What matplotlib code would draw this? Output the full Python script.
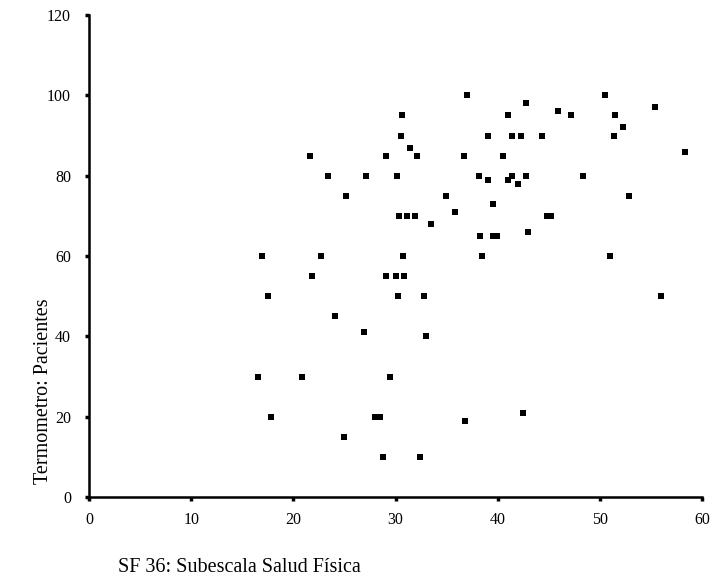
import matplotlib
matplotlib.use("Agg")
import matplotlib.pyplot as plt

sf36_fisica = [16.5, 16.9, 17.5, 17.8, 20.8, 21.6, 21.8, 22.7, 23.4, 24.1,
               25.0, 25.2, 26.9, 27.1, 28.0, 28.5, 28.8, 29.1, 29.1, 29.5,
               30.0, 30.1, 30.2, 30.3, 30.5, 30.6, 30.7, 30.8, 31.1, 31.4,
               31.9, 32.1, 32.4, 32.8, 33.0, 33.5, 34.9, 35.8, 36.7, 36.8,
               37.0, 38.2, 38.3, 38.5, 39.1, 39.1, 39.5, 39.5, 39.9, 40.5,
               41.0, 41.0, 41.4, 41.4, 42.0, 42.3, 42.5, 42.8, 42.8, 43.0,
               44.3, 44.8, 45.2, 45.9, 47.2, 48.4, 50.5, 51.0, 51.4, 51.5,
               52.3, 52.9, 55.4, 56.0, 58.3]
termometro = [30, 60, 50, 20, 30, 85, 55, 60, 80, 45,
              15, 75, 41, 80, 20, 20, 10, 85, 55, 30,
              55, 80, 50, 70, 90, 95, 60, 55, 70, 87,
              70, 85, 10, 50, 40, 68, 75, 71, 85, 19,
              100, 80, 65, 60, 90, 79, 73, 65, 65, 85,
              95, 79, 80, 90, 78, 90, 21, 98, 80, 66,
              90, 70, 70, 96, 95, 80, 100, 60, 90, 95,
              92, 75, 97, 50, 86]

x_ticks = [0, 10, 20, 30, 40, 50, 60]
y_ticks = [0, 20, 40, 60, 80, 100, 120]
x_label = "SF 36: Subescala Salud Física"
y_label = "Termometro: Pacientes"

plt.rcParams['font.family'] = ['Liberation Serif', 'DejaVu Serif']

fig = plt.figure(figsize=(7.12, 5.84), dpi=100)
ax = fig.add_axes([89/712, 1-497/584, (702-89)/712, (497-15)/584])

ax.scatter(sf36_fisica, termometro, marker='s', s=20, color='black',
           linewidths=0, zorder=3)

ax.set_xlim(0, 60)
ax.set_ylim(0, 120)
ax.set_xticks(x_ticks)
ax.set_yticks(y_ticks)
ax.tick_params(axis='both', direction='out', length=3, width=2.5,
               labelsize=11.5, colors='black')
ax.tick_params(axis='x', pad=8)
ax.tick_params(axis='y', pad=10)

for s in ['top', 'right']:
    ax.spines[s].set_visible(False)
for s in ['left', 'bottom']:
    ax.spines[s].set_linewidth(1.8)
    ax.spines[s].set_color('black')

ax.set_ylabel(y_label, fontsize=14.5)
ax.yaxis.set_label_coords(-0.075, 0.22, transform=ax.transAxes)
ax.yaxis.label.set_va('center')

fig.text(118/712, 1-568/584, x_label, fontsize=14.5, ha='left', va='center')

fig.savefig("out.png", dpi=100)
